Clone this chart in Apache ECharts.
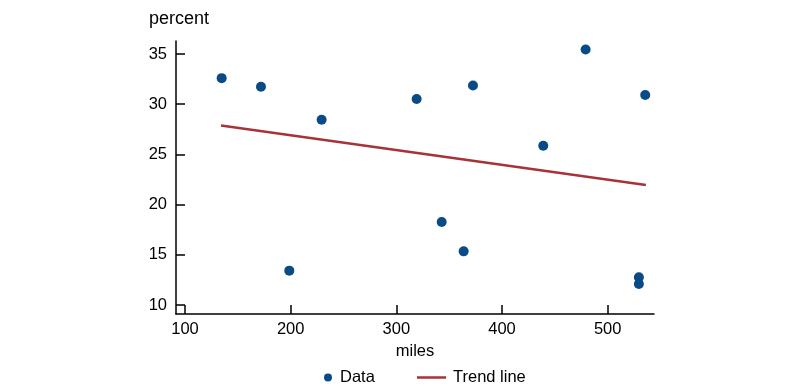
<!DOCTYPE html>
<html>
<head>
<meta charset="utf-8">
<script src="https://cdn.jsdelivr.net/npm/echarts@6/dist/echarts.min.js"></script>
<style>html,body{margin:0;padding:0;background:#fff}#c{width:800px;height:392px}</style>
</head>
<body>
<div id="c"></div>
<script>
const milesData = [134.7, 171.9, 229.3, 198.7, 319.2, 342.9, 363.7, 372.5, 439.0, 479.1, 529.5, 529.5, 535.5];
const percentData = [32.6, 31.75, 28.46, 13.42, 30.52, 18.27, 15.34, 31.87, 25.87, 35.46, 12.75, 12.09, 30.92];
const trendMiles = [134.1, 536.1];
const trendPercent = [27.89, 21.95];
const xTicks = [100, 200, 300, 400, 500];
const yTicks = [10, 15, 20, 25, 30, 35];

const FONT = '"Liberation Sans", Arial, sans-serif';
const FS = 16.5;
const chart = echarts.init(document.getElementById('c'), null, {renderer: 'canvas'});
const axisCommon = {
  axisLine: {show: true, onZero: false, lineStyle: {color: '#000', width: 1.5}},
  axisTick: {show: true, inside: true, length: 9, lineStyle: {color: '#000', width: 1.5}},
  splitLine: {show: false},
  axisLabel: {color: '#000', fontFamily: FONT, fontSize: FS}
};
chart.setOption({
  animation: false,
  grid: {left: 176, right: 146, top: 41, bottom: 78, containLabel: false},
  xAxis: {
    type: 'value', min: 91.5, max: 543.8,
    ...axisCommon,
    axisTick: {...axisCommon.axisTick, customValues: xTicks},
    axisLabel: {...axisCommon.axisLabel, customValues: xTicks, margin: 7},
    name: 'miles', nameLocation: 'middle', nameGap: 28,
    nameTextStyle: {color: '#000', fontFamily: FONT, fontSize: FS}
  },
  yAxis: {
    type: 'value', min: 9.1, max: 36.3,
    ...axisCommon,
    axisTick: {...axisCommon.axisTick, customValues: yTicks},
    axisLabel: {...axisCommon.axisLabel, customValues: yTicks, margin: 9}
  },
  graphic: [{
    type: 'text', left: 149, top: 10,
    style: {text: 'percent', fill: '#000', font: '18px ' + FONT}
  }],
  legend: [{
    data: [{name: 'Data', icon: 'circle'}],
    left: 319, top: 364, itemWidth: 14, itemHeight: 8,
    textStyle: {color: '#000', fontFamily: FONT, fontSize: FS}
  }, {
    data: [{name: 'Trend line', icon: 'rect'}],
    left: 412, top: 364, itemWidth: 29, itemHeight: 2.5,
    textStyle: {color: '#000', fontFamily: FONT, fontSize: FS, padding: [0, 0, 0, 2]}
  }],
  series: [{
    name: 'Data', type: 'scatter', symbolSize: 10,
    itemStyle: {color: '#0a4a85', opacity: 1},
    data: milesData.map((m, i) => [m, percentData[i]])
  }, {
    name: 'Trend line', type: 'line', showSymbol: false, symbol: 'none',
    lineStyle: {color: '#a8323a', width: 2.5},
    itemStyle: {color: '#a8323a'},
    data: trendMiles.map((m, i) => [m, trendPercent[i]])
  }]
});
</script>
</body>
</html>
